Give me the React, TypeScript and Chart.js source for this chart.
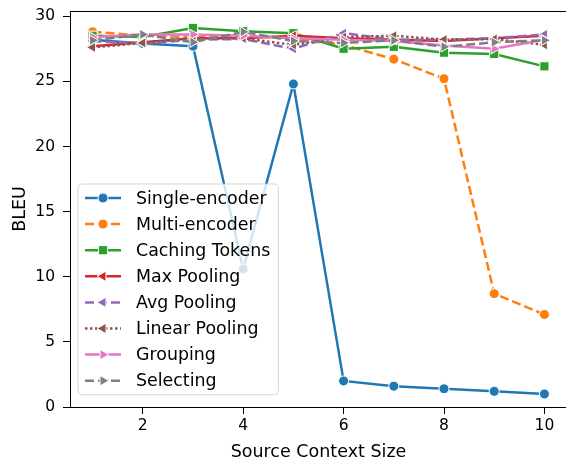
import { useEffect, useRef } from "react";
import { Chart, registerables } from "chart.js";

Chart.register(...registerables);

const contextSizes = [1, 2, 3, 4, 5, 6, 7, 8, 9, 10];
const singleEncoder = [28.2, 27.9, 27.7, 10.6, 24.8, 2.0, 1.6, 1.4, 1.2, 1.0];
const multiEncoder = [28.8, 28.5, 28.4, 28.5, 28.3, 27.8, 26.7, 25.2, 8.7, 7.1];
const cachingTokens = [28.5, 28.4, 29.1, 28.85, 28.7, 27.5, 27.65, 27.2, 27.1, 26.15];
const maxPooling = [27.7, 28.0, 28.3, 28.3, 28.5, 28.3, 28.2, 28.1, 28.3, 28.5];
const avgPooling = [28.1, 27.9, 28.2, 28.25, 27.5, 28.7, 28.2, 28.2, 28.3, 28.6];
const linearPooling = [27.6, 27.95, 28.3, 28.3, 27.8, 28.4, 28.5, 28.2, 28.25, 27.8];
const grouping = [28.4, 28.6, 28.6, 28.5, 28.3, 28.2, 28.1, 27.75, 27.5, 28.2];
const selecting = [28.15, 28.6, 28.0, 28.8, 28.1, 27.95, 28.15, 27.65, 28.0, 28.15];

const seriesNames = [
  "Single-encoder",
  "Multi-encoder",
  "Caching Tokens",
  "Max Pooling",
  "Avg Pooling",
  "Linear Pooling",
  "Grouping",
  "Selecting",
];
const seriesValues = [
  singleEncoder,
  multiEncoder,
  cachingTokens,
  maxPooling,
  avgPooling,
  linearPooling,
  grouping,
  selecting,
];
const xTickValues = [2, 4, 6, 8, 10];
const yTickValues = [0, 5, 10, 15, 20, 25, 30];
const xTitle = "Source Context Size";
const yTitle = "BLEU";

const colors = ["#1f77b4", "#ff7f0e", "#2ca02c", "#d62728", "#9467bd", "#8c564b", "#e377c2", "#7f7f7f"];
const dashes: number[][] = [[], [9, 4], [], [], [9, 4], [2.5, 2.5], [], [9, 4]];
// marker kinds: circle, square, left triangle, right triangle
const markers = ["circle", "circle", "square", "left", "left", "left", "right", "right"];

const FONT = '"DejaVu Sans", sans-serif';

function drawMarker(ctx: CanvasRenderingContext2D, kind: string, x: number, y: number, color: string) {
  ctx.save();
  ctx.beginPath();
  if (kind === "circle") {
    ctx.arc(x, y, 5, 0, Math.PI * 2);
  } else if (kind === "square") {
    ctx.rect(x - 4.6, y - 4.6, 9.2, 9.2);
  } else {
    const dir = kind === "left" ? -1 : 1;
    const r = 6;
    for (let k = 0; k < 3; k++) {
      const a = (k * 2 * Math.PI) / 3;
      const px = x + dir * Math.cos(a) * r;
      const py = y + Math.sin(a) * r;
      if (k === 0) ctx.moveTo(px, py);
      else ctx.lineTo(px, py);
    }
    ctx.closePath();
  }
  ctx.fillStyle = color;
  ctx.fill();
  ctx.lineWidth = 1;
  ctx.strokeStyle = "#ffffff";
  ctx.stroke();
  ctx.restore();
}

const decorPlugin = {
  id: "mplDecor",
  afterDraw(chart: any) {
    const ctx: CanvasRenderingContext2D = chart.ctx;
    const { left, top, right, bottom } = chart.chartArea;
    ctx.save();
    // top and right spines
    ctx.strokeStyle = "#000";
    ctx.lineWidth = 1;
    ctx.beginPath();
    ctx.moveTo(left, top + 0.5);
    ctx.lineTo(right, top + 0.5);
    ctx.lineTo(right, bottom);
    ctx.stroke();

    // axis titles
    ctx.fillStyle = "#000";
    ctx.font = `17.5px ${FONT}`;
    ctx.textAlign = "center";
    ctx.textBaseline = "alphabetic";
    ctx.fillText(xTitle, (left + right) / 2, 457);
    ctx.save();
    ctx.translate(25, (top + bottom) / 2);
    ctx.rotate(-Math.PI / 2);
    ctx.fillText(yTitle, 0, 0);
    ctx.restore();

    // legend
    ctx.font = `17.4px ${FONT}`;
    let maxW = 0;
    for (const n of seriesNames) maxW = Math.max(maxW, ctx.measureText(n).width);
    const bx = left + 8;
    const by = top + 173;
    const rowH = 26.1;
    const bw = 58 + maxW + 8;
    const bh = 14 + rowH * 7 + 14;
    const rr = 4;
    ctx.beginPath();
    ctx.moveTo(bx + rr, by);
    ctx.lineTo(bx + bw - rr, by);
    ctx.arcTo(bx + bw, by, bx + bw, by + rr, rr);
    ctx.lineTo(bx + bw, by + bh - rr);
    ctx.arcTo(bx + bw, by + bh, bx + bw - rr, by + bh, rr);
    ctx.lineTo(bx + rr, by + bh);
    ctx.arcTo(bx, by + bh, bx, by + bh - rr, rr);
    ctx.lineTo(bx, by + rr);
    ctx.arcTo(bx, by, bx + rr, by, rr);
    ctx.closePath();
    ctx.fillStyle = "rgba(255,255,255,0.8)";
    ctx.fill();
    ctx.strokeStyle = "rgba(204,204,204,0.8)";
    ctx.lineWidth = 1;
    ctx.stroke();

    ctx.textAlign = "left";
    ctx.textBaseline = "middle";
    seriesNames.forEach((name, i) => {
      const cy = by + 14 + i * rowH;
      ctx.save();
      ctx.strokeStyle = colors[i];
      ctx.lineWidth = 2.5;
      ctx.setLineDash(dashes[i]);
      ctx.beginPath();
      ctx.moveTo(bx + 7, cy);
      ctx.lineTo(bx + 43, cy);
      ctx.stroke();
      ctx.restore();
      drawMarker(ctx, markers[i], bx + 25, cy, colors[i]);
      ctx.fillStyle = "#000";
      ctx.fillText(name, bx + 58, cy + 1);
    });
    ctx.restore();
  },
};

export default function App() {
  const ref = useRef<HTMLCanvasElement | null>(null);

  useEffect(() => {
    const canvas = ref.current;
    if (!canvas) return;

    const datasets = seriesNames.map((name, i) => {
      const kind = markers[i];
      return {
        label: name,
        data: contextSizes.map((x, j) => ({ x, y: seriesValues[i][j] })),
        borderColor: colors[i],
        backgroundColor: colors[i],
        borderWidth: 2.5,
        borderDash: dashes[i],
        pointStyle: kind === "circle" ? "circle" : kind === "square" ? "rect" : "triangle",
        rotation: kind === "left" ? -90 : kind === "right" ? 90 : 0,
        pointRadius: kind === "circle" ? 5 : kind === "square" ? 6.5 : 6,
        pointBorderColor: "#ffffff",
        pointBorderWidth: 1,
        pointBackgroundColor: colors[i],
        tension: 0,
        order: seriesNames.length - i,
      };
    });

    const chart = new Chart(canvas, {
      type: "line",
      data: { datasets } as any,
      options: {
        responsive: false,
        animation: false,
        devicePixelRatio: 1,
        layout: { padding: { left: 0, top: 11, right: 9, bottom: 0 } },
        plugins: { legend: { display: false }, tooltip: { enabled: false } },
        scales: {
          x: {
            type: "linear",
            min: 0.55,
            max: 10.45,
            afterBuildTicks: (s: any) => {
              s.ticks = xTickValues.map((v) => ({ value: v }));
            },
            afterFit: (s: any) => {
              s.height = 52;
              s.paddingLeft = 0;
              s.paddingRight = 0;
              s.paddingTop = 0;
              s.paddingBottom = 0;
            },
            grid: { drawOnChartArea: false, drawTicks: true, tickLength: 7, tickWidth: 1, tickColor: "#000" },
            border: { display: true, color: "#000", width: 1 },
            ticks: {
              font: { family: FONT, size: 15.5 },
              color: "#000",
              padding: 3,
              maxRotation: 0,
              autoSkip: false,
              callback: (v: any) => String(v),
            },
          },
          y: {
            type: "linear",
            min: 0,
            max: 30.4,
            afterBuildTicks: (s: any) => {
              s.ticks = yTickValues.map((v) => ({ value: v }));
            },
            afterFit: (s: any) => {
              s.width = 70;
              s.paddingLeft = 0;
              s.paddingRight = 0;
              s.paddingTop = 0;
              s.paddingBottom = 0;
            },
            grid: { drawOnChartArea: false, drawTicks: true, tickLength: 7, tickWidth: 1, tickColor: "#000" },
            border: { display: true, color: "#000", width: 1 },
            ticks: {
              font: { family: FONT, size: 15.5 },
              color: "#000",
              padding: 8,
              autoSkip: false,
              callback: (v: any) => String(v),
            },
          },
        },
      },
      plugins: [decorPlugin],
    } as any);

    return () => chart.destroy();
  }, []);

  return (
    <div style={{ position: "fixed", left: 0, top: 0, width: 566, height: 459, overflow: "hidden", background: "#fff" }}>
      <canvas ref={ref} width={576} height={459} style={{ width: 576, height: 459, display: "block" }} />
    </div>
  );
}
